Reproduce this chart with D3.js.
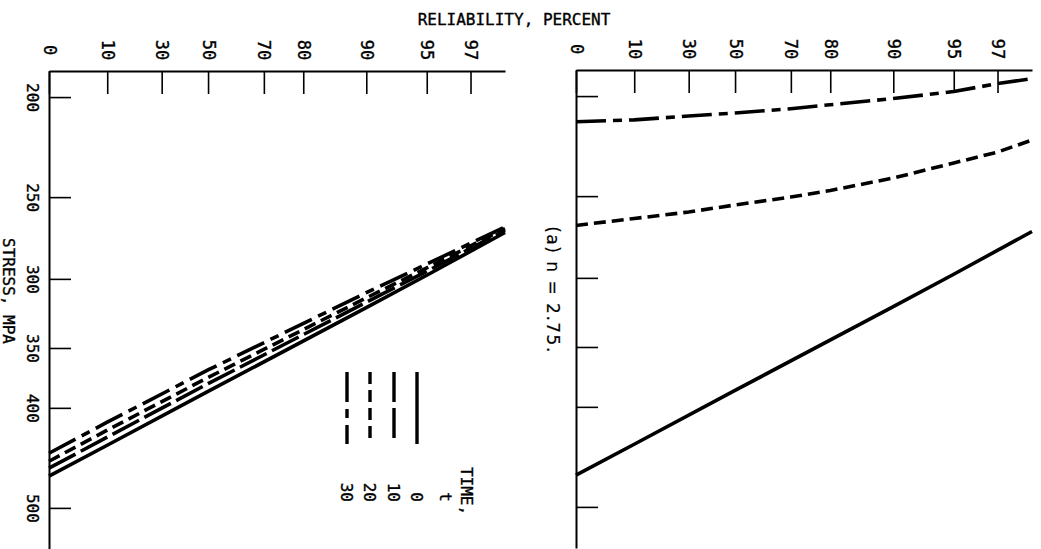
<!DOCTYPE html>
<html>
<head>
<meta charset="utf-8">
<script src="https://cdn.jsdelivr.net/npm/d3@7"></script>
<style>
  html, body { margin: 0; padding: 0; background: #fff; }
  svg { display: block; }
  text { fill: #000; stroke: #000; stroke-width: 0.35px; }
</style>
</head>
<body>
<svg id="chart" width="1041" height="549"></svg>
<script>
// ---------- data ----------
const reliabilityTicks  = [1, 10, 30, 50, 70, 80, 90, 95, 97];
const reliabilityLabels = ["0", "10", "30", "50", "70", "80", "90", "95", "97"];
const reliabilityExtent = [1, 98];
const stressTicks  = [200, 250, 300, 350, 400, 500];
const stressExtent = [188.7, 548];

// left panel: four times, stress (MPa) at these reliabilities (%)
const relLeft = [1, 10, 50, 90, 95, 98];
const stressT0  = [465.8, 434.8, 385.6, 319.9, 297.6, 270.5];
const stressT10 = [457.6, 427.0, 379.0, 316.0, 295.0, 269.2];
const stressT20 = [450.6, 420.4, 373.8, 313.0, 292.8, 268.2];
const stressT30 = [442.6, 413.0, 367.6, 309.4, 290.3, 267.2];

// right panel curves
const relRight = [1, 10, 30, 50, 70, 80, 90, 95, 97, 98];
const stressUpper  = [211.8, 210.9, 209.1, 207.7, 205.7, 203.9, 201.1, 198.0, 194.5, 192.4];
const stressMiddle = [266.9, 262.8, 259.0, 255.0, 250.5, 246.9, 240.1, 232.2, 226.6, 220.6];

const timeLabels = ["0", "10", "20", "30"];
const timeDash   = [null, "30,6", "12,6", "30,7,9,7"];

// ---------- setup ----------
const svg = d3.select("#chart");
const MONO = "'DejaVu Sans Mono', 'Liberation Mono', monospace";
const wt = r => -Math.log(-Math.log(r / 100));   // Weibull reliability transform

const xs = d3.scaleLinear().domain(reliabilityExtent.map(wt)).range([49, 505]);
const ys = d3.scaleLog().domain(stressExtent).range([71, 549]);

const line = d3.line().x(d => xs(wt(d.r))).y(d => ys(d.s));
const pts = (rs, ss) => rs.map((r, i) => ({ r, s: ss[i] }));

function drawAxes(g, showStressLabels) {
  // reliability axis (top)
  const ax = g.append("g")
    .attr("transform", `translate(0,${ys.range()[0]})`)
    .call(d3.axisTop(xs)
      .tickValues(reliabilityTicks.map(wt))
      .tickFormat((d, i) => reliabilityLabels[i])
      .tickSize(-23).tickSizeOuter(0));
  ax.select(".domain").attr("stroke", "#000").attr("stroke-width", 2);
  ax.selectAll(".tick line").attr("stroke", "#000").attr("stroke-width", 1.6);
  ax.selectAll(".tick text")
    .attr("y", null).attr("dy", "0.35em")
    .attr("transform", "translate(0,-21) rotate(90)")
    .attr("text-anchor", "middle")
    .attr("font-family", MONO).attr("font-size", 17).attr("fill", "#000");

  // stress axis (left)
  const ay = g.append("g")
    .attr("transform", `translate(${xs.range()[0]},0)`)
    .call(d3.axisLeft(ys)
      .tickValues(stressTicks)
      .tickFormat(d => showStressLabels ? d3.format("d")(d) : "")
      .tickSize(-22).tickSizeOuter(0));
  ay.select(".domain").attr("stroke", "#000").attr("stroke-width", 2);
  ay.selectAll(".tick line").attr("stroke", "#000").attr("stroke-width", 1.6);
  ay.selectAll(".tick text")
    .attr("x", null).attr("dy", "0.35em")
    .attr("transform", "translate(-16,0) rotate(90)")
    .attr("text-anchor", "middle")
    .attr("font-family", MONO).attr("font-size", 16).attr("fill", "#000");
}

function drawSeries(g, data, dash) {
  g.append("path")
    .datum(data)
    .attr("d", line)
    .attr("fill", "none")
    .attr("stroke", "#000")
    .attr("stroke-width", 3.6)
    .attr("stroke-dasharray", dash);
}

// ---------- left panel ----------
const left = svg.append("g");
drawAxes(left, true);
[stressT0, stressT10, stressT20, stressT30].forEach((ss, i) =>
  drawSeries(left, pts(relLeft, ss), timeDash[i]));

// legend
const legX = [417, 394, 370, 347];
const leg = left.append("g");
timeLabels.forEach((lab, i) => {
  leg.append("line")
    .attr("x1", legX[i]).attr("x2", legX[i])
    .attr("y1", 372).attr("y2", 444)
    .attr("stroke", "#000").attr("stroke-width", 3.4)
    .attr("stroke-dasharray", timeDash[i]);
  leg.append("text")
    .attr("transform", `translate(${legX[i]},502) rotate(90)`)
    .attr("dy", "0.35em").attr("text-anchor", "end")
    .attr("font-family", MONO).attr("font-size", 16)
    .text(lab);
});
leg.append("text")
  .attr("transform", "translate(467,491) rotate(90)")
  .attr("dy", "0.35em").attr("text-anchor", "middle")
  .attr("font-family", MONO).attr("font-size", 16)
  .text("TIME,");
leg.append("text")
  .attr("transform", "translate(446,497) rotate(90)")
  .attr("dy", "0.35em").attr("text-anchor", "middle")
  .attr("font-family", MONO).attr("font-size", 16)
  .text("t");

// stress axis title
left.append("text")
  .attr("transform", "translate(9,291) rotate(90)")
  .attr("dy", "0.35em").attr("text-anchor", "middle")
  .attr("font-family", MONO).attr("font-size", 16)
  .text("STRESS, MPA");

// ---------- right panel ----------
const right = svg.append("g").attr("transform", "translate(527,-1)");
drawAxes(right, false);
drawSeries(right, pts(relLeft, stressT0), timeDash[0]);
drawSeries(right, pts(relRight, stressMiddle), timeDash[2]);
drawSeries(right, pts(relRight, stressUpper), timeDash[3]);

// panel caption
svg.append("text")
  .attr("transform", "translate(553,290) rotate(90)")
  .attr("dy", "0.35em").attr("text-anchor", "middle")
  .attr("font-family", "'DejaVu Sans', sans-serif").attr("font-size", 17)
  .attr("letter-spacing", 1.5)
  .style("stroke-width", "0.15px")
  .text("(a) n = 2.75.");

// overall title
svg.append("text")
  .attr("x", 514).attr("y", 25)
  .attr("text-anchor", "middle")
  .attr("font-family", MONO).attr("font-size", 16)
  .text("RELIABILITY, PERCENT");
</script>
</body>
</html>
